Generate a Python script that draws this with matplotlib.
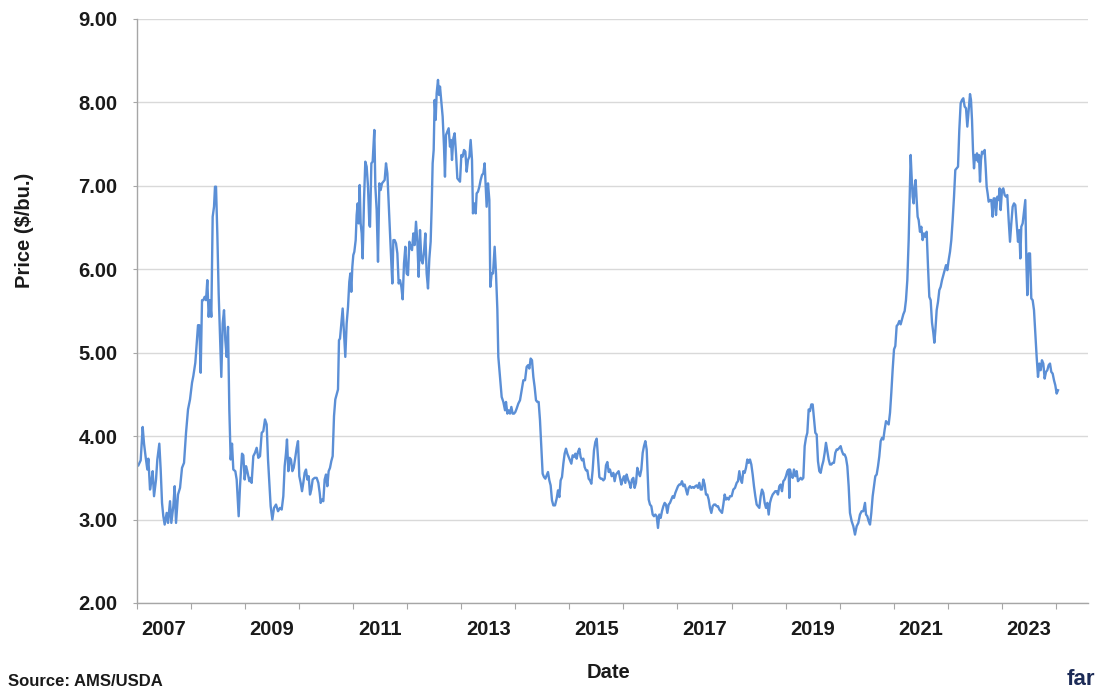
import matplotlib
matplotlib.use("Agg")
import matplotlib.pyplot as plt
import numpy as np

plt.rcParams['font.family'] = ['Liberation Sans', 'DejaVu Sans']
plt.rcParams['font.weight'] = 'bold'

# weekly corn price, decimal year / $ per bushel
dates = [
    2007.025, 2007.068, 2007.105, 2007.130, 2007.160, 2007.191, 2007.210, 2007.241, 2007.259, 2007.290,
    2007.315, 2007.352, 2007.376, 2007.413, 2007.438, 2007.463, 2007.487, 2007.512, 2007.549, 2007.574,
    2007.611, 2007.635, 2007.672, 2007.697, 2007.722, 2007.759, 2007.796, 2007.833, 2007.870, 2007.907,
    2007.944, 2007.981, 2008.018, 2008.042, 2008.079, 2008.104, 2008.129, 2008.153, 2008.178, 2008.203,
    2008.227, 2008.252, 2008.277, 2008.301, 2008.326, 2008.351, 2008.375, 2008.400, 2008.425, 2008.443,
    2008.462, 2008.486, 2008.511, 2008.536, 2008.560, 2008.585, 2008.610, 2008.634, 2008.659, 2008.684,
    2008.708, 2008.733, 2008.758, 2008.782, 2008.819, 2008.844, 2008.881, 2008.906, 2008.943, 2008.967,
    2008.992, 2009.017, 2009.041, 2009.078,
    2009.091, 2009.121, 2009.152, 2009.183, 2009.214, 2009.245, 2009.276, 2009.307, 2009.337, 2009.368,
    2009.399, 2009.424, 2009.448, 2009.473, 2009.504, 2009.535, 2009.572, 2009.609, 2009.646, 2009.677,
    2009.707, 2009.732, 2009.757, 2009.775, 2009.800, 2009.825, 2009.849, 2009.874, 2009.899, 2009.923,
    2009.954, 2009.979, 2010.003, 2010.028, 2010.053, 2010.077, 2010.102, 2010.127, 2010.151, 2010.176,
    2010.201, 2010.225, 2010.250, 2010.287, 2010.324, 2010.355, 2010.380, 2010.398, 2010.423, 2010.447,
    2010.472, 2010.497, 2010.521, 2010.546, 2010.571, 2010.595, 2010.620, 2010.645, 2010.669, 2010.694,
    2010.719, 2010.737, 2010.756, 2010.780, 2010.805, 2010.830, 2010.854, 2010.879, 2010.904, 2010.928,
    2010.947, 2010.965, 2010.984, 2011.002, 2011.021, 2011.046, 2011.064, 2011.083, 2011.101, 2011.120,
    2011.138, 2011.157, 2011.175, 2011.200, 2011.224, 2011.249, 2011.274, 2011.299,
    2011.311, 2011.336, 2011.360, 2011.391, 2011.410, 2011.434, 2011.459, 2011.484, 2011.508, 2011.533,
    2011.558, 2011.582, 2011.607, 2011.632, 2011.656, 2011.681, 2011.706, 2011.724, 2011.743, 2011.767,
    2011.792, 2011.817, 2011.841, 2011.866, 2011.891, 2011.915, 2011.940, 2011.965, 2011.989, 2012.014,
    2012.039, 2012.063, 2012.088, 2012.113, 2012.137, 2012.162, 2012.187, 2012.211, 2012.236, 2012.261,
    2012.285, 2012.310, 2012.335, 2012.359, 2012.384, 2012.409, 2012.433, 2012.452, 2012.470, 2012.489,
    2012.507, 2012.526, 2012.544, 2012.569, 2012.587, 2012.606, 2012.631, 2012.655, 2012.680, 2012.698,
    2012.717, 2012.742, 2012.766, 2012.791, 2012.809, 2012.828, 2012.853, 2012.877, 2012.902, 2012.927,
    2012.951, 2012.976, 2013.001, 2013.025, 2013.050, 2013.075, 2013.099, 2013.124, 2013.149, 2013.173,
    2013.198, 2013.216, 2013.241, 2013.266, 2013.284, 2013.309, 2013.334, 2013.358, 2013.383, 2013.408,
    2013.432, 2013.451, 2013.469, 2013.494, 2013.519, 2013.537, 2013.562, 2013.587, 2013.617, 2013.642,
    2013.667,
    2013.685, 2013.716, 2013.747, 2013.778, 2013.809, 2013.827, 2013.852, 2013.876, 2013.901, 2013.926,
    2013.950, 2013.975, 2014.000, 2014.024, 2014.055, 2014.086, 2014.117, 2014.148, 2014.179, 2014.209,
    2014.234, 2014.259, 2014.283, 2014.308, 2014.333, 2014.357, 2014.382, 2014.407, 2014.431, 2014.456,
    2014.481, 2014.505, 2014.530, 2014.555, 2014.579, 2014.604, 2014.629, 2014.653, 2014.678, 2014.703,
    2014.734, 2014.764, 2014.789, 2014.814, 2014.838, 2014.863, 2014.888, 2014.912, 2014.937, 2014.962,
    2014.986, 2015.011, 2015.036, 2015.060, 2015.085, 2015.110, 2015.134, 2015.159, 2015.184, 2015.208,
    2015.233, 2015.258, 2015.282, 2015.307, 2015.332, 2015.356, 2015.381, 2015.406, 2015.430, 2015.455,
    2015.480, 2015.505, 2015.529, 2015.554, 2015.579, 2015.603, 2015.628, 2015.653, 2015.677, 2015.702,
    2015.727,
    2015.751, 2015.782, 2015.813, 2015.837, 2015.862, 2015.887, 2015.911, 2015.936, 2015.961, 2015.985,
    2016.010, 2016.035, 2016.059, 2016.084, 2016.109, 2016.133, 2016.158, 2016.183, 2016.207, 2016.232,
    2016.257, 2016.281, 2016.306, 2016.331, 2016.356, 2016.380, 2016.405, 2016.430, 2016.448, 2016.467,
    2016.491, 2016.516, 2016.541, 2016.565, 2016.590, 2016.615, 2016.639, 2016.664, 2016.689, 2016.713,
    2016.738, 2016.763, 2016.787, 2016.812, 2016.837, 2016.861, 2016.886, 2016.911, 2016.935, 2016.960,
    2016.985, 2017.009, 2017.034, 2017.059, 2017.083, 2017.108, 2017.133, 2017.157, 2017.182, 2017.207,
    2017.231, 2017.256, 2017.281, 2017.305, 2017.330, 2017.355, 2017.379, 2017.404, 2017.429, 2017.453,
    2017.478, 2017.503, 2017.527, 2017.552, 2017.577, 2017.601, 2017.626, 2017.651, 2017.676, 2017.700,
    2017.725, 2017.750, 2017.774, 2017.799, 2017.824, 2017.848, 2017.873, 2017.897, 2017.922, 2017.947,
    2017.971, 2018.002, 2018.033, 2018.064, 2018.095, 2018.119, 2018.144, 2018.169, 2018.193, 2018.218,
    2018.243, 2018.267, 2018.292, 2018.317, 2018.341, 2018.366, 2018.391, 2018.415, 2018.440, 2018.465,
    2018.489, 2018.514, 2018.539, 2018.563, 2018.588, 2018.613, 2018.637, 2018.662, 2018.687, 2018.711,
    2018.736, 2018.761, 2018.785, 2018.810, 2018.835, 2018.859, 2018.884, 2018.909, 2018.933, 2018.958,
    2018.983, 2019.007, 2019.032, 2019.057, 2019.069, 2019.081, 2019.106, 2019.131, 2019.155, 2019.180,
    2019.205, 2019.229, 2019.254, 2019.279, 2019.303, 2019.328, 2019.353, 2019.377, 2019.402, 2019.427,
    2019.451, 2019.476, 2019.501, 2019.525, 2019.550, 2019.575, 2019.599, 2019.624, 2019.649, 2019.673,
    2019.698, 2019.723, 2019.747, 2019.772, 2019.797, 2019.821, 2019.846, 2019.871, 2019.895, 2019.920,
    2019.945, 2019.969, 2019.994, 2020.019, 2020.043, 2020.068, 2020.093, 2020.117, 2020.142, 2020.167,
    2020.191, 2020.222, 2020.253, 2020.284, 2020.315, 2020.346, 2020.376, 2020.407, 2020.438, 2020.469,
    2020.488, 2020.512, 2020.537, 2020.562, 2020.586, 2020.611, 2020.636, 2020.660, 2020.685, 2020.710,
    2020.734, 2020.759, 2020.784, 2020.808, 2020.833, 2020.858, 2020.882, 2020.907, 2020.932, 2020.956,
    2020.981, 2021.006, 2021.030, 2021.055, 2021.080, 2021.104, 2021.129, 2021.154, 2021.178, 2021.203,
    2021.227, 2021.252, 2021.277, 2021.295, 2021.314, 2021.332, 2021.351, 2021.369, 2021.388, 2021.406,
    2021.425, 2021.443, 2021.462, 2021.486, 2021.511, 2021.536, 2021.561, 2021.585, 2021.610, 2021.635,
    2021.659, 2021.684, 2021.709, 2021.733, 2021.752, 2021.770, 2021.795, 2021.820, 2021.844, 2021.869,
    2021.894, 2021.918, 2021.943, 2021.968, 2021.992, 2022.017, 2022.042, 2022.066, 2022.091, 2022.116,
    2022.140, 2022.165, 2022.190, 2022.214, 2022.239, 2022.264, 2022.288, 2022.313, 2022.338, 2022.362,
    2022.387,
    2022.412, 2022.430, 2022.449, 2022.467, 2022.486, 2022.504, 2022.523, 2022.541, 2022.560, 2022.578,
    2022.597, 2022.615, 2022.634, 2022.658, 2022.683, 2022.701, 2022.720, 2022.738, 2022.757, 2022.782,
    2022.806, 2022.831, 2022.850, 2022.874, 2022.893, 2022.917, 2022.942, 2022.960, 2022.979, 2023.004,
    2023.028, 2023.053, 2023.078, 2023.102, 2023.127, 2023.152, 2023.176, 2023.201, 2023.226, 2023.250,
    2023.275, 2023.300, 2023.324, 2023.343, 2023.361, 2023.386, 2023.411, 2023.435, 2023.454, 2023.472,
    2023.497, 2023.522, 2023.546, 2023.571, 2023.596, 2023.620, 2023.645, 2023.670, 2023.694, 2023.719,
    2023.743, 2023.768, 2023.793, 2023.818, 2023.842, 2023.867, 2023.892, 2023.916, 2023.941, 2023.966,
    2023.990, 2024.015, 2024.040,
]

prices = [
    3.65, 3.71, 4.11, 3.91, 3.75, 3.60, 3.73, 3.36, 3.43, 3.58,
    3.28, 3.48, 3.72, 3.91, 3.60, 3.20, 3.04, 2.94, 3.08, 2.96,
    3.22, 2.96, 3.16, 3.40, 2.96, 3.30, 3.38, 3.62, 3.68, 4.04,
    4.32, 4.44, 4.64, 4.72, 4.88, 5.11, 5.33, 5.33, 4.76, 5.63,
    5.63, 5.67, 5.63, 5.87, 5.43, 5.63, 5.43, 6.63, 6.75, 6.99,
    6.99, 6.43, 5.71, 5.19, 4.71, 5.35, 5.51, 5.15, 4.95, 5.31,
    4.32, 3.72, 3.91, 3.60, 3.58, 3.48, 3.04, 3.40, 3.79, 3.77,
    3.48, 3.64, 3.58, 3.46,
    3.50, 3.44, 3.76, 3.80, 3.86, 3.74, 3.76, 4.04, 4.06, 4.20,
    4.14, 3.72, 3.44, 3.16, 3.00, 3.14, 3.18, 3.10, 3.14, 3.12,
    3.28, 3.64, 3.80, 3.96, 3.58, 3.74, 3.72, 3.58, 3.62, 3.72,
    3.86, 3.94, 3.52, 3.44, 3.34, 3.44, 3.56, 3.60, 3.48, 3.52,
    3.30, 3.36, 3.48, 3.50, 3.50, 3.44, 3.32, 3.20, 3.24, 3.22,
    3.48, 3.54, 3.40, 3.58, 3.62, 3.70, 3.76, 4.24, 4.44, 4.50,
    4.56, 5.15, 5.17, 5.35, 5.53, 5.23, 4.95, 5.35, 5.55, 5.85,
    5.95, 5.73, 6.03, 6.17, 6.21, 6.35, 6.65, 6.79, 6.55, 7.01,
    6.55, 6.43, 6.13, 6.83, 7.29, 7.23, 6.99, 6.53,
    6.51, 7.27, 7.29, 7.67, 6.99, 6.71, 6.09, 7.03, 6.95, 7.03,
    7.05, 7.07, 7.27, 7.15, 6.79, 6.39, 6.07, 5.83, 6.35, 6.35,
    6.31, 6.19, 5.83, 5.87, 5.79, 5.64, 6.07, 6.27, 5.95, 5.93,
    6.33, 6.27, 6.23, 6.43, 6.29, 6.57, 6.33, 5.91, 6.47, 6.11,
    6.07, 6.21, 6.43, 5.95, 5.77, 6.13, 6.33, 6.75, 7.27, 7.43,
    8.03, 7.79, 8.11, 8.27, 8.09, 8.19, 8.01, 7.83, 7.47, 7.11,
    7.61, 7.65, 7.69, 7.47, 7.55, 7.31, 7.57, 7.63, 7.39, 7.09,
    7.07, 7.05, 7.37, 7.35, 7.43, 7.41, 7.17, 7.31, 7.35, 7.55,
    7.31, 6.67, 6.79, 6.67, 6.91, 6.93, 6.99, 7.07, 7.13, 7.15,
    7.27, 7.01, 6.75, 7.03, 6.83, 5.79, 5.95, 5.95, 6.27, 5.95,
    5.52,
    4.95, 4.71, 4.47, 4.41, 4.31, 4.41, 4.27, 4.31, 4.27, 4.35,
    4.27, 4.27, 4.29, 4.33, 4.39, 4.43, 4.55, 4.67, 4.67, 4.83,
    4.85, 4.81, 4.93, 4.91, 4.71, 4.59, 4.43, 4.41, 4.41, 4.19,
    3.87, 3.55, 3.51, 3.49, 3.53, 3.57, 3.47, 3.41, 3.23, 3.17,
    3.17, 3.25, 3.35, 3.27, 3.47, 3.51, 3.67, 3.79, 3.85, 3.79,
    3.75, 3.71, 3.67, 3.77, 3.75, 3.79, 3.73, 3.81, 3.85, 3.75,
    3.71, 3.73, 3.63, 3.59, 3.59, 3.49, 3.47, 3.43, 3.59, 3.83,
    3.93, 3.97, 3.75, 3.51, 3.49, 3.49, 3.47, 3.49, 3.65, 3.69,
    3.57,
    3.60, 3.52, 3.56, 3.46, 3.54, 3.56, 3.58, 3.50, 3.42, 3.48,
    3.52, 3.44, 3.54, 3.48, 3.44, 3.38, 3.48, 3.50, 3.38, 3.44,
    3.62, 3.56, 3.52, 3.60, 3.80, 3.88, 3.94, 3.84, 3.56, 3.24,
    3.18, 3.16, 3.06, 3.04, 3.06, 3.04, 2.90, 3.06, 3.02, 3.10,
    3.16, 3.20, 3.18, 3.08, 3.18, 3.20, 3.24, 3.28, 3.26, 3.32,
    3.36, 3.40, 3.42, 3.42, 3.46, 3.40, 3.42, 3.36, 3.30, 3.38,
    3.40, 3.38, 3.39, 3.38, 3.40, 3.41, 3.38, 3.44, 3.36, 3.36,
    3.48, 3.42, 3.30, 3.30, 3.24, 3.14, 3.08, 3.16, 3.18, 3.18,
    3.16, 3.16, 3.12, 3.10, 3.08, 3.18, 3.30, 3.24, 3.26, 3.24,
    3.28, 3.28, 3.36, 3.38, 3.44, 3.46, 3.58, 3.48, 3.44, 3.58,
    3.56, 3.62, 3.72, 3.68, 3.72, 3.66, 3.54, 3.40, 3.28, 3.18,
    3.16, 3.14, 3.28, 3.36, 3.32, 3.20, 3.14, 3.20, 3.06, 3.20,
    3.26, 3.30, 3.32, 3.34, 3.34, 3.30, 3.40, 3.42, 3.34, 3.46,
    3.48, 3.52, 3.58, 3.60, 3.26, 3.60, 3.52, 3.50, 3.60, 3.52,
    3.58, 3.46, 3.48, 3.50, 3.48, 3.50, 3.88, 3.98, 4.04, 4.32,
    4.30, 4.38, 4.38, 4.22, 4.04, 4.02, 3.70, 3.58, 3.56, 3.64,
    3.70, 3.80, 3.92, 3.82, 3.72, 3.66, 3.66, 3.68, 3.68, 3.80,
    3.84, 3.84, 3.86, 3.88, 3.82, 3.78, 3.78, 3.74, 3.64, 3.40,
    3.08, 2.98, 2.92, 2.82, 2.92, 2.96, 3.06, 3.10, 3.10, 3.20,
    3.06, 3.04, 2.98, 2.94, 3.08, 3.28, 3.40, 3.52, 3.54, 3.64,
    3.76, 3.94, 3.98, 3.96, 4.08, 4.18, 4.16, 4.14, 4.28, 4.52,
    4.80, 5.04, 5.08, 5.32, 5.34, 5.38, 5.34, 5.40, 5.46, 5.50,
    5.63, 5.87, 6.35, 6.87, 7.37, 7.11, 6.87, 6.79, 6.99, 7.07,
    6.83, 6.63, 6.59, 6.45, 6.51, 6.35, 6.43, 6.39, 6.45, 6.03,
    5.67, 5.63, 5.36, 5.24, 5.12, 5.26, 5.51, 5.61, 5.75, 5.79,
    5.87, 5.93, 5.99, 6.05, 5.99, 6.11, 6.21, 6.35, 6.59, 6.87,
    7.19, 7.21, 7.23, 7.67, 7.99, 8.03, 8.05, 7.95, 7.93, 7.71,
    7.91,
    8.10, 8.03, 7.79, 7.43, 7.21, 7.37, 7.31, 7.39, 7.29, 7.37,
    7.05, 7.31, 7.41, 7.39, 7.43, 7.23, 6.99, 6.91, 6.81, 6.83,
    6.83, 6.63, 6.85, 6.85, 6.65, 6.87, 6.83, 6.97, 6.71, 6.95,
    6.97, 6.89, 6.87, 6.89, 6.59, 6.33, 6.55, 6.75, 6.79, 6.77,
    6.55, 6.33, 6.47, 6.13, 6.51, 6.55, 6.69, 6.83, 6.11, 5.69,
    6.19, 6.19, 5.65, 5.63, 5.51, 5.23, 4.95, 4.71, 4.87, 4.79,
    4.91, 4.87, 4.69, 4.77, 4.79, 4.85, 4.87, 4.77, 4.75, 4.67,
    4.61, 4.51, 4.55,
]

y_ticks = [2, 3, 4, 5, 6, 7, 8, 9]
x_labels = ['2007', '2009', '2011', '2013', '2015', '2017', '2019', '2021', '2023']
year_ticks = list(range(2007, 2025))

fig = plt.figure(figsize=(11.01, 6.88), dpi=100)
ax = fig.add_axes([137 / 1101, 1 - 603 / 688, (1088 - 137) / 1101, (603 - 19) / 688])

ax.plot(dates, prices, color='#5b8fd6', linewidth=1.7, solid_joinstyle='round')

ax.set_ylim(2, 9)
ax.set_xlim(2007.0, 2024.595)

ax.set_yticks(y_ticks)
ax.set_yticklabels(['{:.2f}'.format(v) for v in y_ticks])
ax.set_xticks(year_ticks)
ax.set_xticklabels([''] * len(year_ticks))
ax.set_xticks([int(s) + 0.5 for s in x_labels], minor=True)
ax.set_xticklabels(x_labels, minor=True)

ax.grid(axis='y', color='#d9d9d9', linewidth=1.0)
ax.set_axisbelow(True)

for side in ['top', 'right']:
    ax.spines[side].set_visible(False)
for side in ['left', 'bottom']:
    ax.spines[side].set_color('#a6a6a6')
    ax.spines[side].set_linewidth(1.0)

ax.tick_params(axis='y', which='major', length=3, color='#a6a6a6', pad=11,
               labelsize=14.5, labelcolor='#1a1a1a')
ax.tick_params(axis='x', which='major', length=4.5, color='#a6a6a6')
ax.tick_params(axis='x', which='minor', length=0, pad=12,
               labelsize=14.5, labelcolor='#1a1a1a')
for lbl in ax.get_yticklabels() + ax.get_xticklabels(minor=True):
    lbl.set_fontweight('bold')

fig.text(25 / 1101, 1 - 230 / 688, 'Price ($/bu.)', rotation=90, ha='center', va='center',
         fontsize=14.5, fontweight='bold', color='#1a1a1a')
fig.text(609 / 1101, 1 - 673 / 688, 'Date', ha='center', va='center',
         fontsize=14.5, fontweight='bold', color='#1a1a1a')
fig.text(8 / 1101, 2 / 688, 'Source: AMS/USDA', ha='left', va='baseline',
         fontsize=12, fontweight='bold', color='#1a1a1a')
# logo text, only its start is visible in the corner
fig.text(1067 / 1101, 3 / 688, 'far', ha='left', va='baseline',
         fontsize=16, fontweight='bold', color='#1c2b57')

fig.savefig('out.png', dpi=100)
plt.close(fig)
